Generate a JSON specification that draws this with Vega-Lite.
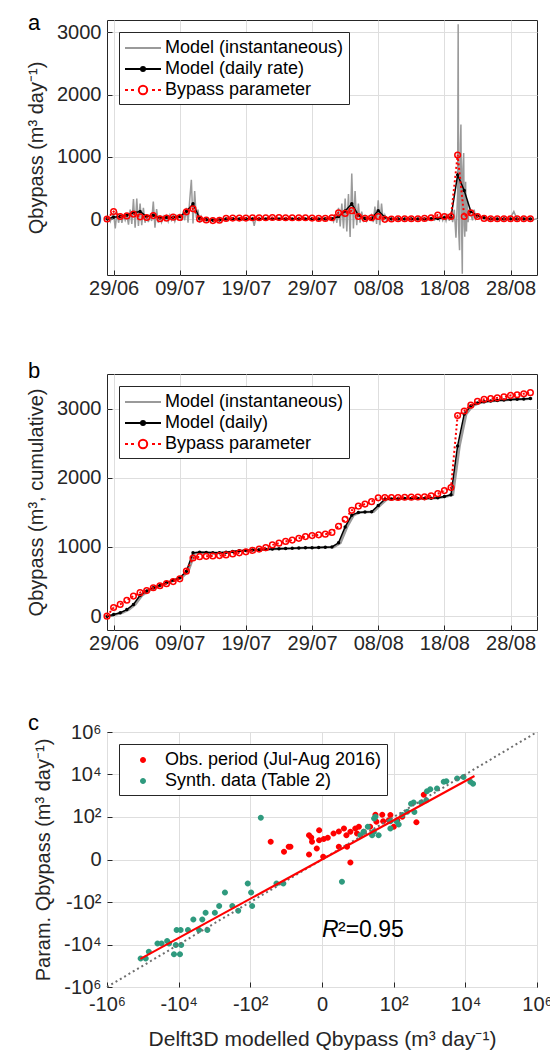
{
  "$schema": "https://vega.github.io/schema/vega-lite/v6.json",
  "padding": {"left": 26, "top": 11, "right": 5, "bottom": 5},
  "spacing": 57,
  "datasets": {
    "inst": [
      {"t":"2016-06-28T00:00","v":0},{"t":"2016-06-28T06:00","v":30},{"t":"2016-06-28T12:00","v":-40},{"t":"2016-06-28T18:00","v":40},
      {"t":"2016-06-29T00:00","v":80},{"t":"2016-06-29T06:00","v":-150},{"t":"2016-06-29T12:00","v":120},{"t":"2016-06-29T18:00","v":-60},
      {"t":"2016-06-30T00:00","v":90},{"t":"2016-06-30T06:00","v":-60},{"t":"2016-06-30T12:00","v":70},{"t":"2016-06-30T18:00","v":-20},
      {"t":"2016-07-01T00:00","v":60},{"t":"2016-07-01T06:00","v":-90},{"t":"2016-07-01T12:00","v":150},{"t":"2016-07-01T18:00","v":-80},
      {"t":"2016-07-02T00:00","v":320},{"t":"2016-07-02T06:00","v":-140},{"t":"2016-07-02T12:00","v":330},{"t":"2016-07-02T18:00","v":-110},
      {"t":"2016-07-03T00:00","v":250},{"t":"2016-07-03T06:00","v":-100},{"t":"2016-07-03T12:00","v":180},{"t":"2016-07-03T18:00","v":-60},
      {"t":"2016-07-04T00:00","v":60},{"t":"2016-07-04T06:00","v":-50},{"t":"2016-07-04T12:00","v":50},{"t":"2016-07-04T18:00","v":-30},
      {"t":"2016-07-05T00:00","v":280},{"t":"2016-07-05T06:00","v":-140},{"t":"2016-07-05T12:00","v":160},{"t":"2016-07-05T18:00","v":-60},
      {"t":"2016-07-06T00:00","v":60},{"t":"2016-07-06T06:00","v":-50},{"t":"2016-07-06T12:00","v":40},{"t":"2016-07-06T18:00","v":-20},
      {"t":"2016-07-07T00:00","v":50},{"t":"2016-07-07T06:00","v":-40},{"t":"2016-07-07T12:00","v":60},{"t":"2016-07-07T18:00","v":-20},
      {"t":"2016-07-08T00:00","v":40},{"t":"2016-07-08T06:00","v":-40},{"t":"2016-07-08T12:00","v":50},{"t":"2016-07-08T18:00","v":0},
      {"t":"2016-07-09T00:00","v":60},{"t":"2016-07-09T06:00","v":-30},{"t":"2016-07-09T12:00","v":120},{"t":"2016-07-09T18:00","v":-20},
      {"t":"2016-07-10T00:00","v":180},{"t":"2016-07-10T06:00","v":-60},{"t":"2016-07-10T12:00","v":300},{"t":"2016-07-10T18:00","v":630},
      {"t":"2016-07-11T00:00","v":-70},{"t":"2016-07-11T06:00","v":450},{"t":"2016-07-11T12:00","v":20},{"t":"2016-07-11T18:00","v":150},
      {"t":"2016-07-12T00:00","v":-60},{"t":"2016-07-12T06:00","v":40},{"t":"2016-07-12T12:00","v":-20},{"t":"2016-07-12T18:00","v":10},
      {"t":"2016-07-13T00:00","v":20},{"t":"2016-07-13T12:00","v":-20},
      {"t":"2016-07-14T00:00","v":15},{"t":"2016-07-14T12:00","v":-15},
      {"t":"2016-07-15T00:00","v":20},{"t":"2016-07-15T12:00","v":-20},
      {"t":"2016-07-16T00:00","v":15},{"t":"2016-07-16T12:00","v":-10},
      {"t":"2016-07-17T00:00","v":20},{"t":"2016-07-17T12:00","v":-15},
      {"t":"2016-07-18T00:00","v":15},{"t":"2016-07-18T12:00","v":-20},
      {"t":"2016-07-19T00:00","v":20},{"t":"2016-07-19T12:00","v":-15},
      {"t":"2016-07-20T00:00","v":20},{"t":"2016-07-20T06:00","v":-110},{"t":"2016-07-20T12:00","v":15},
      {"t":"2016-07-21T00:00","v":-15},{"t":"2016-07-21T12:00","v":20},
      {"t":"2016-07-22T00:00","v":-10},{"t":"2016-07-22T12:00","v":15},
      {"t":"2016-07-23T00:00","v":-15},{"t":"2016-07-23T12:00","v":20},
      {"t":"2016-07-24T00:00","v":-10},{"t":"2016-07-24T12:00","v":15},
      {"t":"2016-07-25T00:00","v":-20},{"t":"2016-07-25T12:00","v":20},
      {"t":"2016-07-26T00:00","v":-10},{"t":"2016-07-26T12:00","v":15},
      {"t":"2016-07-27T00:00","v":-15},{"t":"2016-07-27T12:00","v":20},
      {"t":"2016-07-28T00:00","v":-10},{"t":"2016-07-28T12:00","v":15},
      {"t":"2016-07-29T00:00","v":-15},{"t":"2016-07-29T12:00","v":20},
      {"t":"2016-07-30T00:00","v":-10},{"t":"2016-07-30T12:00","v":25},
      {"t":"2016-07-31T00:00","v":-20},{"t":"2016-07-31T12:00","v":30},
      {"t":"2016-08-01T00:00","v":20},{"t":"2016-08-01T06:00","v":-40},{"t":"2016-08-01T12:00","v":80},{"t":"2016-08-01T18:00","v":-60},
      {"t":"2016-08-02T00:00","v":180},{"t":"2016-08-02T06:00","v":-120},{"t":"2016-08-02T12:00","v":250},{"t":"2016-08-02T18:00","v":-150},
      {"t":"2016-08-03T00:00","v":330},{"t":"2016-08-03T06:00","v":-200},{"t":"2016-08-03T12:00","v":400},{"t":"2016-08-03T18:00","v":-290},
      {"t":"2016-08-04T00:00","v":730},{"t":"2016-08-04T06:00","v":-150},{"t":"2016-08-04T12:00","v":450},{"t":"2016-08-04T18:00","v":-100},
      {"t":"2016-08-05T00:00","v":250},{"t":"2016-08-05T06:00","v":-60},{"t":"2016-08-05T12:00","v":120},{"t":"2016-08-05T18:00","v":-20},
      {"t":"2016-08-06T00:00","v":50},{"t":"2016-08-06T06:00","v":-30},{"t":"2016-08-06T12:00","v":40},{"t":"2016-08-06T18:00","v":-10},
      {"t":"2016-08-07T00:00","v":60},{"t":"2016-08-07T06:00","v":-50},{"t":"2016-08-07T12:00","v":200},{"t":"2016-08-07T18:00","v":-80},
      {"t":"2016-08-08T00:00","v":300},{"t":"2016-08-08T06:00","v":-100},{"t":"2016-08-08T12:00","v":250},{"t":"2016-08-08T18:00","v":-40},
      {"t":"2016-08-09T00:00","v":60},{"t":"2016-08-09T06:00","v":-30},{"t":"2016-08-09T12:00","v":20},{"t":"2016-08-09T18:00","v":-10},
      {"t":"2016-08-10T00:00","v":15},{"t":"2016-08-10T12:00","v":-15},
      {"t":"2016-08-11T00:00","v":20},{"t":"2016-08-11T12:00","v":-20},
      {"t":"2016-08-12T00:00","v":15},{"t":"2016-08-12T12:00","v":-15},
      {"t":"2016-08-13T00:00","v":20},{"t":"2016-08-13T12:00","v":-20},
      {"t":"2016-08-14T00:00","v":15},{"t":"2016-08-14T12:00","v":-15},
      {"t":"2016-08-15T00:00","v":20},{"t":"2016-08-15T12:00","v":-20},
      {"t":"2016-08-16T00:00","v":25},{"t":"2016-08-16T12:00","v":-20},
      {"t":"2016-08-17T00:00","v":40},{"t":"2016-08-17T06:00","v":-20},{"t":"2016-08-17T12:00","v":60},{"t":"2016-08-17T18:00","v":-20},
      {"t":"2016-08-18T00:00","v":60},{"t":"2016-08-18T06:00","v":-30},{"t":"2016-08-18T12:00","v":80},{"t":"2016-08-18T18:00","v":-30},
      {"t":"2016-08-19T00:00","v":100},{"t":"2016-08-19T06:00","v":-50},{"t":"2016-08-19T12:00","v":150},{"t":"2016-08-19T18:00","v":-300},
      {"t":"2016-08-20T00:00","v":400},{"t":"2016-08-20T02:00","v":3130},{"t":"2016-08-20T04:00","v":-200},{"t":"2016-08-20T07:00","v":-500},{"t":"2016-08-20T10:00","v":1200},{"t":"2016-08-20T12:00","v":1520},{"t":"2016-08-20T15:00","v":-300},{"t":"2016-08-20T17:00","v":-880},{"t":"2016-08-20T19:00","v":800},{"t":"2016-08-20T22:00","v":1060},
      {"t":"2016-08-21T00:00","v":-100},{"t":"2016-08-21T02:00","v":-285},{"t":"2016-08-21T05:00","v":600},{"t":"2016-08-21T08:00","v":-200},{"t":"2016-08-21T11:00","v":300},{"t":"2016-08-21T14:00","v":-50},{"t":"2016-08-21T18:00","v":150},
      {"t":"2016-08-22T00:00","v":80},{"t":"2016-08-22T06:00","v":-20},{"t":"2016-08-22T12:00","v":150},{"t":"2016-08-22T18:00","v":0},
      {"t":"2016-08-23T00:00","v":60},{"t":"2016-08-23T12:00","v":20},
      {"t":"2016-08-24T00:00","v":30},{"t":"2016-08-24T12:00","v":-20},
      {"t":"2016-08-25T00:00","v":20},{"t":"2016-08-25T12:00","v":-15},
      {"t":"2016-08-26T00:00","v":15},{"t":"2016-08-26T12:00","v":-20},
      {"t":"2016-08-27T00:00","v":20},{"t":"2016-08-27T12:00","v":-15},
      {"t":"2016-08-28T00:00","v":25},{"t":"2016-08-28T12:00","v":120},
      {"t":"2016-08-29T00:00","v":-10},{"t":"2016-08-29T12:00","v":20},
      {"t":"2016-08-30T00:00","v":15},{"t":"2016-08-30T12:00","v":-15},
      {"t":"2016-08-31T00:00","v":20},{"t":"2016-08-31T12:00","v":-10},
      {"t":"2016-09-01T00:00","v":10}
    ],
    "daily": [
      {"t":"2016-06-28T00:00","m":5,"p":0,"cm":0,"cp":0},
      {"t":"2016-06-29T00:00","m":30,"p":120,"cm":25,"cp":125},
      {"t":"2016-06-30T00:00","m":40,"p":40,"cm":50,"cp":170},
      {"t":"2016-07-01T00:00","m":60,"p":50,"cm":95,"cp":230},
      {"t":"2016-07-02T00:00","m":100,"p":80,"cm":170,"cp":290},
      {"t":"2016-07-03T00:00","m":120,"p":35,"cm":300,"cp":340},
      {"t":"2016-07-04T00:00","m":40,"p":25,"cm":365,"cp":370},
      {"t":"2016-07-05T00:00","m":60,"p":55,"cm":410,"cp":410},
      {"t":"2016-07-06T00:00","m":20,"p":5,"cm":445,"cp":440},
      {"t":"2016-07-07T00:00","m":25,"p":15,"cm":485,"cp":470},
      {"t":"2016-07-08T00:00","m":30,"p":30,"cm":520,"cp":500},
      {"t":"2016-07-09T00:00","m":40,"p":25,"cm":555,"cp":540},
      {"t":"2016-07-10T00:00","m":120,"p":115,"cm":650,"cp":650},
      {"t":"2016-07-11T00:00","m":245,"p":165,"cm":915,"cp":840},
      {"t":"2016-07-12T00:00","m":10,"p":0,"cm":925,"cp":860},
      {"t":"2016-07-13T00:00","m":-10,"p":-15,"cm":920,"cp":865},
      {"t":"2016-07-14T00:00","m":-20,"p":-25,"cm":915,"cp":870},
      {"t":"2016-07-15T00:00","m":-15,"p":-20,"cm":918,"cp":875},
      {"t":"2016-07-16T00:00","m":0,"p":10,"cm":925,"cp":885},
      {"t":"2016-07-17T00:00","m":5,"p":15,"cm":935,"cp":900},
      {"t":"2016-07-18T00:00","m":0,"p":15,"cm":945,"cp":915},
      {"t":"2016-07-19T00:00","m":5,"p":15,"cm":950,"cp":930},
      {"t":"2016-07-20T00:00","m":0,"p":20,"cm":955,"cp":950},
      {"t":"2016-07-21T00:00","m":5,"p":20,"cm":960,"cp":970},
      {"t":"2016-07-22T00:00","m":0,"p":20,"cm":965,"cp":990},
      {"t":"2016-07-23T00:00","m":5,"p":25,"cm":970,"cp":1030},
      {"t":"2016-07-24T00:00","m":0,"p":25,"cm":975,"cp":1055},
      {"t":"2016-07-25T00:00","m":5,"p":20,"cm":978,"cp":1080},
      {"t":"2016-07-26T00:00","m":0,"p":20,"cm":980,"cp":1100},
      {"t":"2016-07-27T00:00","m":5,"p":20,"cm":985,"cp":1125},
      {"t":"2016-07-28T00:00","m":0,"p":20,"cm":990,"cp":1150},
      {"t":"2016-07-29T00:00","m":5,"p":15,"cm":990,"cp":1165},
      {"t":"2016-07-30T00:00","m":0,"p":10,"cm":992,"cp":1175},
      {"t":"2016-07-31T00:00","m":5,"p":10,"cm":995,"cp":1185},
      {"t":"2016-08-01T00:00","m":5,"p":20,"cm":1000,"cp":1210},
      {"t":"2016-08-02T00:00","m":40,"p":100,"cm":1060,"cp":1300},
      {"t":"2016-08-03T00:00","m":130,"p":90,"cm":1290,"cp":1400},
      {"t":"2016-08-04T00:00","m":245,"p":135,"cm":1460,"cp":1530},
      {"t":"2016-08-05T00:00","m":60,"p":40,"cm":1500,"cp":1590},
      {"t":"2016-08-06T00:00","m":10,"p":10,"cm":1505,"cp":1620},
      {"t":"2016-08-07T00:00","m":10,"p":20,"cm":1510,"cp":1655},
      {"t":"2016-08-08T00:00","m":135,"p":40,"cm":1600,"cp":1710},
      {"t":"2016-08-09T00:00","m":30,"p":-5,"cm":1690,"cp":1715},
      {"t":"2016-08-10T00:00","m":0,"p":0,"cm":1695,"cp":1715},
      {"t":"2016-08-11T00:00","m":0,"p":5,"cm":1698,"cp":1715},
      {"t":"2016-08-12T00:00","m":0,"p":5,"cm":1700,"cp":1718},
      {"t":"2016-08-13T00:00","m":0,"p":5,"cm":1700,"cp":1720},
      {"t":"2016-08-14T00:00","m":0,"p":5,"cm":1700,"cp":1722},
      {"t":"2016-08-15T00:00","m":0,"p":10,"cm":1702,"cp":1725},
      {"t":"2016-08-16T00:00","m":5,"p":20,"cm":1705,"cp":1740},
      {"t":"2016-08-17T00:00","m":10,"p":65,"cm":1712,"cp":1770},
      {"t":"2016-08-18T00:00","m":20,"p":40,"cm":1730,"cp":1815},
      {"t":"2016-08-19T00:00","m":30,"p":40,"cm":1755,"cp":1860},
      {"t":"2016-08-20T00:00","m":710,"p":1030,"cm":2460,"cp":2900},
      {"t":"2016-08-21T00:00","m":460,"p":40,"cm":2920,"cp":2965},
      {"t":"2016-08-22T00:00","m":120,"p":100,"cm":3040,"cp":3050},
      {"t":"2016-08-23T00:00","m":50,"p":40,"cm":3080,"cp":3105},
      {"t":"2016-08-24T00:00","m":20,"p":10,"cm":3100,"cp":3135},
      {"t":"2016-08-25T00:00","m":0,"p":5,"cm":3110,"cp":3145},
      {"t":"2016-08-26T00:00","m":0,"p":5,"cm":3118,"cp":3155},
      {"t":"2016-08-27T00:00","m":0,"p":5,"cm":3125,"cp":3170},
      {"t":"2016-08-28T00:00","m":0,"p":5,"cm":3130,"cp":3190},
      {"t":"2016-08-29T00:00","m":0,"p":5,"cm":3135,"cp":3200},
      {"t":"2016-08-30T00:00","m":0,"p":5,"cm":3140,"cp":3215},
      {"t":"2016-08-31T00:00","m":0,"p":5,"cm":3145,"cp":3230}
    ],
    "cumi": [
      {"t":"2016-06-28T07:00","v":0},{"t":"2016-06-29T07:00","v":25},{"t":"2016-06-30T07:00","v":50},{"t":"2016-07-01T07:00","v":95},
      {"t":"2016-07-02T07:00","v":170},{"t":"2016-07-03T07:00","v":300},{"t":"2016-07-04T07:00","v":365},{"t":"2016-07-05T07:00","v":410},
      {"t":"2016-07-06T07:00","v":445},{"t":"2016-07-07T07:00","v":485},{"t":"2016-07-08T07:00","v":520},{"t":"2016-07-09T07:00","v":555},
      {"t":"2016-07-10T07:00","v":650},{"t":"2016-07-11T07:00","v":915},{"t":"2016-07-12T07:00","v":925},{"t":"2016-07-13T07:00","v":920},
      {"t":"2016-07-14T07:00","v":915},{"t":"2016-07-15T07:00","v":918},{"t":"2016-07-16T07:00","v":925},{"t":"2016-07-17T07:00","v":935},
      {"t":"2016-07-18T07:00","v":945},{"t":"2016-07-19T07:00","v":950},{"t":"2016-07-20T07:00","v":955},{"t":"2016-07-21T07:00","v":960},
      {"t":"2016-07-22T07:00","v":965},{"t":"2016-07-23T07:00","v":970},{"t":"2016-07-24T07:00","v":975},{"t":"2016-07-25T07:00","v":978},
      {"t":"2016-07-26T07:00","v":980},{"t":"2016-07-27T07:00","v":985},{"t":"2016-07-28T07:00","v":990},{"t":"2016-07-29T07:00","v":990},
      {"t":"2016-07-30T07:00","v":992},{"t":"2016-07-31T07:00","v":995},{"t":"2016-08-01T07:00","v":1000},{"t":"2016-08-02T07:00","v":1060},
      {"t":"2016-08-03T07:00","v":1290},{"t":"2016-08-04T07:00","v":1460},{"t":"2016-08-05T07:00","v":1500},{"t":"2016-08-06T07:00","v":1505},
      {"t":"2016-08-07T07:00","v":1510},{"t":"2016-08-08T07:00","v":1600},{"t":"2016-08-09T07:00","v":1690},{"t":"2016-08-10T07:00","v":1695},
      {"t":"2016-08-11T07:00","v":1698},{"t":"2016-08-12T07:00","v":1700},{"t":"2016-08-13T07:00","v":1700},{"t":"2016-08-14T07:00","v":1700},
      {"t":"2016-08-15T07:00","v":1702},{"t":"2016-08-16T07:00","v":1705},{"t":"2016-08-17T07:00","v":1712},{"t":"2016-08-18T07:00","v":1730},
      {"t":"2016-08-19T07:00","v":1755},{"t":"2016-08-20T07:00","v":2460},{"t":"2016-08-21T07:00","v":2920},{"t":"2016-08-22T07:00","v":3040},
      {"t":"2016-08-23T07:00","v":3080},{"t":"2016-08-24T07:00","v":3100},{"t":"2016-08-25T07:00","v":3110},{"t":"2016-08-26T07:00","v":3118},
      {"t":"2016-08-27T07:00","v":3125},{"t":"2016-08-28T07:00","v":3130},{"t":"2016-08-29T07:00","v":3135},{"t":"2016-08-30T07:00","v":3140},
      {"t":"2016-08-31T07:00","v":3145}
    ],
    "scatter": [
      {"x":-26,"y":5.8,"g":"Obs. period (Jul-Aug 2016)"},
      {"x":-10.5,"y":1.3,"g":"Obs. period (Jul-Aug 2016)"},
      {"x":-7.5,"y":3,"g":"Obs. period (Jul-Aug 2016)"},
      {"x":-6.6,"y":3,"g":"Obs. period (Jul-Aug 2016)"},
      {"x":-1.3,"y":0.7,"g":"Obs. period (Jul-Aug 2016)"},
      {"x":-1.0,"y":9.8,"g":"Obs. period (Jul-Aug 2016)"},
      {"x":-0.9,"y":5.8,"g":"Obs. period (Jul-Aug 2016)"},
      {"x":-1.3,"y":13,"g":"Obs. period (Jul-Aug 2016)"},
      {"x":-0.4,"y":2.3,"g":"Obs. period (Jul-Aug 2016)"},
      {"x":-0.2,"y":23,"g":"Obs. period (Jul-Aug 2016)"},
      {"x":-0.2,"y":7.1,"g":"Obs. period (Jul-Aug 2016)"},
      {"x":0.12,"y":8.1,"g":"Obs. period (Jul-Aug 2016)"},
      {"x":0.08,"y":0.35,"g":"Obs. period (Jul-Aug 2016)"},
      {"x":0.45,"y":9.5,"g":"Obs. period (Jul-Aug 2016)"},
      {"x":1.1,"y":15.6,"g":"Obs. period (Jul-Aug 2016)"},
      {"x":1.95,"y":20,"g":"Obs. period (Jul-Aug 2016)"},
      {"x":3.1,"y":28,"g":"Obs. period (Jul-Aug 2016)"},
      {"x":3.8,"y":13,"g":"Obs. period (Jul-Aug 2016)"},
      {"x":5.2,"y":19,"g":"Obs. period (Jul-Aug 2016)"},
      {"x":7.5,"y":28,"g":"Obs. period (Jul-Aug 2016)"},
      {"x":8.5,"y":15.6,"g":"Obs. period (Jul-Aug 2016)"},
      {"x":5.2,"y":-0.4,"g":"Obs. period (Jul-Aug 2016)"},
      {"x":1.95,"y":3,"g":"Obs. period (Jul-Aug 2016)"},
      {"x":4,"y":3,"g":"Obs. period (Jul-Aug 2016)"},
      {"x":13.6,"y":19,"g":"Obs. period (Jul-Aug 2016)"},
      {"x":30,"y":128,"g":"Obs. period (Jul-Aug 2016)"},
      {"x":47,"y":128,"g":"Obs. period (Jul-Aug 2016)"},
      {"x":32,"y":58,"g":"Obs. period (Jul-Aug 2016)"},
      {"x":50,"y":62,"g":"Obs. period (Jul-Aug 2016)"},
      {"x":80,"y":122,"g":"Obs. period (Jul-Aug 2016)"},
      {"x":72,"y":70,"g":"Obs. period (Jul-Aug 2016)"},
      {"x":125,"y":70,"g":"Obs. period (Jul-Aug 2016)"},
      {"x":173,"y":101,"g":"Obs. period (Jul-Aug 2016)"},
      {"x":100,"y":34,"g":"Obs. period (Jul-Aug 2016)"},
      {"x":21,"y":34,"g":"Obs. period (Jul-Aug 2016)"},
      {"x":9.7,"y":34,"g":"Obs. period (Jul-Aug 2016)"},
      {"x":430,"y":55,"g":"Obs. period (Jul-Aug 2016)"},
      {"x":690,"y":1120,"g":"Obs. period (Jul-Aug 2016)"},
      {"x":-50,"y":90,"g":"Synth. data (Table 2)"},
      {"x":-117,"y":-12.5,"g":"Synth. data (Table 2)"},
      {"x":-94,"y":-35,"g":"Synth. data (Table 2)"},
      {"x":-88,"y":-154,"g":"Synth. data (Table 2)"},
      {"x":-11,"y":-12.5,"g":"Synth. data (Table 2)"},
      {"x":-17.6,"y":-12.5,"g":"Synth. data (Table 2)"},
      {"x":-510,"y":-35,"g":"Synth. data (Table 2)"},
      {"x":-317,"y":-154,"g":"Synth. data (Table 2)"},
      {"x":-217,"y":-256,"g":"Synth. data (Table 2)"},
      {"x":-740,"y":-154,"g":"Synth. data (Table 2)"},
      {"x":-977,"y":-317,"g":"Synth. data (Table 2)"},
      {"x":-1770,"y":-317,"g":"Synth. data (Table 2)"},
      {"x":-2190,"y":-660,"g":"Synth. data (Table 2)"},
      {"x":-3890,"y":-660,"g":"Synth. data (Table 2)"},
      {"x":-2700,"y":-2090,"g":"Synth. data (Table 2)"},
      {"x":-1580,"y":-2090,"g":"Synth. data (Table 2)"},
      {"x":-5500,"y":-2090,"g":"Synth. data (Table 2)"},
      {"x":-11400,"y":-2090,"g":"Synth. data (Table 2)"},
      {"x":-8800,"y":-2090,"g":"Synth. data (Table 2)"},
      {"x":-12000,"y":-10500,"g":"Synth. data (Table 2)"},
      {"x":-8500,"y":-10500,"g":"Synth. data (Table 2)"},
      {"x":-13500,"y":-29000,"g":"Synth. data (Table 2)"},
      {"x":-9200,"y":-29000,"g":"Synth. data (Table 2)"},
      {"x":-18600,"y":-8900,"g":"Synth. data (Table 2)"},
      {"x":-39000,"y":-8900,"g":"Synth. data (Table 2)"},
      {"x":-30000,"y":-8900,"g":"Synth. data (Table 2)"},
      {"x":-68000,"y":-22000,"g":"Synth. data (Table 2)"},
      {"x":-83000,"y":-45000,"g":"Synth. data (Table 2)"},
      {"x":-115000,"y":-45000,"g":"Synth. data (Table 2)"},
      {"x":-21000,"y":-6900,"g":"Synth. data (Table 2)"},
      {"x":16400,"y":3700,"g":"Synth. data (Table 2)"},
      {"x":13800,"y":4500,"g":"Synth. data (Table 2)"},
      {"x":8900,"y":7700,"g":"Synth. data (Table 2)"},
      {"x":5900,"y":6400,"g":"Synth. data (Table 2)"},
      {"x":2950,"y":4800,"g":"Synth. data (Table 2)"},
      {"x":2500,"y":4500,"g":"Synth. data (Table 2)"},
      {"x":1620,"y":2170,"g":"Synth. data (Table 2)"},
      {"x":1050,"y":2040,"g":"Synth. data (Table 2)"},
      {"x":850,"y":1620,"g":"Synth. data (Table 2)"},
      {"x":585,"y":475,"g":"Synth. data (Table 2)"},
      {"x":360,"y":475,"g":"Synth. data (Table 2)"},
      {"x":305,"y":425,"g":"Synth. data (Table 2)"},
      {"x":238,"y":174,"g":"Synth. data (Table 2)"},
      {"x":173,"y":122,"g":"Synth. data (Table 2)"},
      {"x":119,"y":62,"g":"Synth. data (Table 2)"},
      {"x":80,"y":62,"g":"Synth. data (Table 2)"},
      {"x":80,"y":28,"g":"Synth. data (Table 2)"},
      {"x":137,"y":43,"g":"Synth. data (Table 2)"},
      {"x":30,"y":101,"g":"Synth. data (Table 2)"},
      {"x":27,"y":19,"g":"Synth. data (Table 2)"},
      {"x":37,"y":13,"g":"Synth. data (Table 2)"},
      {"x":24,"y":13,"g":"Synth. data (Table 2)"},
      {"x":18,"y":34,"g":"Synth. data (Table 2)"},
      {"x":10.8,"y":13,"g":"Synth. data (Table 2)"},
      {"x":13.6,"y":19,"g":"Synth. data (Table 2)"},
      {"x":2.6,"y":-10.2,"g":"Synth. data (Table 2)"},
      {"x":377,"y":173,"g":"Synth. data (Table 2)"},
      {"x":815,"y":610,"g":"Synth. data (Table 2)"},
      {"x":27.5,"y":84,"g":"Synth. data (Table 2)"}
    ]
  },
  "resolve": {
    "scale": {"color": "independent", "shape": "independent"},
    "legend": {"color": "independent", "shape": "independent"}
  },
  "vconcat": [
    {
      "spacing": 60,
      "resolve": {
        "scale": {"color": "independent", "shape": "independent"},
        "legend": {"color": "independent", "shape": "independent"}
      },
      "vconcat": [
        {
          "width": 430, "height": 255,
          "title": {"text": "a", "anchor": "start", "frame": "group", "dx": -79, "dy": 32, "offset": 0, "baseline": "alphabetic", "fontSize": 22, "fontWeight": "normal", "color": "#000000"},
          "layer": [
            {
              "data": {"name": "inst"},
              "mark": {"type": "line", "color": "#9a9a9a", "strokeWidth": 1.5, "clip": true},
              "encoding": {
                "x": {"field": "t", "type": "temporal", "title": null,
                  "scale": {"domain": [{"year": 2016, "month": 6, "date": 28}, {"year": 2016, "month": 9, "date": 1}]},
                  "axis": {"format": "%d/%m", "values": [{"year": 2016, "month": 6, "date": 29}, {"year": 2016, "month": 7, "date": 9}, {"year": 2016, "month": 7, "date": 19}, {"year": 2016, "month": 7, "date": 29}, {"year": 2016, "month": 8, "date": 8}, {"year": 2016, "month": 8, "date": 18}, {"year": 2016, "month": 8, "date": 28}]}},
                "y": {"field": "v", "type": "quantitative", "title": "Qbypass (m³ day⁻¹)",
                  "scale": {"domain": [-900, 3200], "nice": false, "zero": false},
                  "axis": {"values": [0, 1000, 2000, 3000], "format": "d"}}
              }
            },
            {
              "data": {"name": "daily"},
              "mark": {"type": "line", "color": "#000000", "strokeWidth": 1.5},
              "encoding": {
                "x": {"field": "t", "type": "temporal", "title": null},
                "y": {"field": "m", "type": "quantitative", "title": "Qbypass (m³ day⁻¹)"}
              }
            },
            {
              "data": {"name": "daily"},
              "mark": {"type": "point", "filled": true, "color": "#000000", "size": 12, "opacity": 1},
              "encoding": {
                "x": {"field": "t", "type": "temporal", "title": null},
                "y": {"field": "m", "type": "quantitative", "title": "Qbypass (m³ day⁻¹)"}
              }
            },
            {
              "data": {"name": "daily"},
              "mark": {"type": "line", "color": "#ff0000", "strokeWidth": 2, "strokeDash": [2, 2.5]},
              "encoding": {
                "x": {"field": "t", "type": "temporal", "title": null},
                "y": {"field": "p", "type": "quantitative", "title": "Qbypass (m³ day⁻¹)"}
              }
            },
            {
              "data": {"name": "daily"},
              "mark": {"type": "point", "filled": false, "color": "#ff0000", "size": 32, "strokeWidth": 1.5, "opacity": 1},
              "encoding": {
                "x": {"field": "t", "type": "temporal", "title": null},
                "y": {"field": "p", "type": "quantitative", "title": "Qbypass (m³ day⁻¹)"}
              }
            },
            {
              "data": {"values": []},
              "mark": {"type": "point", "filled": false, "strokeWidth": 2, "opacity": 1},
              "encoding": {
                "color": {"field": "s", "type": "nominal",
                  "scale": {"domain": ["Model (instantaneous)", "Model (daily rate)", "Bypass parameter"], "range": ["#9a9a9a", "#000000", "#ff0000"]},
                  "legend": {"title": null, "orient": "top-left", "offset": 12}},
                "shape": {"field": "s", "type": "nominal",
                  "scale": {"domain": ["Model (instantaneous)", "Model (daily rate)", "Bypass parameter"], "range": ["M-1.8,0L1.8,0", "M-1.8,0L1.8,0M0.2,0A0.2,0.2,0,1,1,-0.2,0A0.2,0.2,0,1,1,0.2,0Z", "M-1.8,0L-1.5,0M-1.2,0L-0.9,0M0.9,0L1.2,0M1.5,0L1.8,0M0.42,0A0.42,0.42,0,1,1,-0.42,0A0.42,0.42,0,1,1,0.42,0Z"]},
                  "legend": {"title": null, "orient": "top-left", "offset": 12}}
              }
            }
          ]
        },
        {
          "width": 430, "height": 256,
          "title": {"text": "b", "anchor": "start", "frame": "group", "dx": -79, "dy": 26, "offset": 0, "baseline": "alphabetic", "fontSize": 22, "fontWeight": "normal", "color": "#000000"},
          "layer": [
            {
              "data": {"name": "cumi"},
              "mark": {"type": "line", "color": "#9a9a9a", "strokeWidth": 2.5, "clip": true},
              "encoding": {
                "x": {"field": "t", "type": "temporal", "title": null,
                  "scale": {"domain": [{"year": 2016, "month": 6, "date": 28}, {"year": 2016, "month": 9, "date": 1}]},
                  "axis": {"format": "%d/%m", "values": [{"year": 2016, "month": 6, "date": 29}, {"year": 2016, "month": 7, "date": 9}, {"year": 2016, "month": 7, "date": 19}, {"year": 2016, "month": 7, "date": 29}, {"year": 2016, "month": 8, "date": 8}, {"year": 2016, "month": 8, "date": 18}, {"year": 2016, "month": 8, "date": 28}]}},
                "y": {"field": "v", "type": "quantitative", "title": "Qbypass (m³, cumulative)",
                  "scale": {"domain": [-200, 3500], "nice": false, "zero": false},
                  "axis": {"values": [0, 1000, 2000, 3000], "format": "d"}}
              }
            },
            {
              "data": {"name": "daily"},
              "mark": {"type": "line", "color": "#000000", "strokeWidth": 1.5},
              "encoding": {
                "x": {"field": "t", "type": "temporal", "title": null},
                "y": {"field": "cm", "type": "quantitative", "title": "Qbypass (m³, cumulative)"}
              }
            },
            {
              "data": {"name": "daily"},
              "mark": {"type": "point", "filled": true, "color": "#000000", "size": 12, "opacity": 1},
              "encoding": {
                "x": {"field": "t", "type": "temporal", "title": null},
                "y": {"field": "cm", "type": "quantitative", "title": "Qbypass (m³, cumulative)"}
              }
            },
            {
              "data": {"name": "daily"},
              "mark": {"type": "line", "color": "#ff0000", "strokeWidth": 2, "strokeDash": [2, 2.5]},
              "encoding": {
                "x": {"field": "t", "type": "temporal", "title": null},
                "y": {"field": "cp", "type": "quantitative", "title": "Qbypass (m³, cumulative)"}
              }
            },
            {
              "data": {"name": "daily"},
              "mark": {"type": "point", "filled": false, "color": "#ff0000", "size": 32, "strokeWidth": 1.5, "opacity": 1},
              "encoding": {
                "x": {"field": "t", "type": "temporal", "title": null},
                "y": {"field": "cp", "type": "quantitative", "title": "Qbypass (m³, cumulative)"}
              }
            },
            {
              "data": {"values": []},
              "mark": {"type": "point", "filled": false, "strokeWidth": 2, "opacity": 1},
              "encoding": {
                "color": {"field": "s", "type": "nominal",
                  "scale": {"domain": ["Model (instantaneous)", "Model (daily)", "Bypass parameter"], "range": ["#9a9a9a", "#000000", "#ff0000"]},
                  "legend": {"title": null, "orient": "top-left", "offset": 12}},
                "shape": {"field": "s", "type": "nominal",
                  "scale": {"domain": ["Model (instantaneous)", "Model (daily)", "Bypass parameter"], "range": ["M-1.8,0L1.8,0", "M-1.8,0L1.8,0M0.2,0A0.2,0.2,0,1,1,-0.2,0A0.2,0.2,0,1,1,0.2,0Z", "M-1.8,0L-1.5,0M-1.2,0L-0.9,0M0.9,0L1.2,0M1.5,0L1.8,0M0.42,0A0.42,0.42,0,1,1,-0.42,0A0.42,0.42,0,1,1,0.42,0Z"]},
                  "legend": {"title": null, "orient": "top-left", "offset": 12}}
              }
            }
          ]
        }
      ]
    },
    {
      "width": 430, "height": 255,
      "title": {"text": "c", "anchor": "start", "frame": "group", "dx": -79, "dy": 30, "offset": 0, "baseline": "alphabetic", "fontSize": 22, "fontWeight": "normal", "color": "#000000"},
      "layer": [
        {
          "data": {"name": "scatter"},
          "mark": {"type": "point", "filled": true, "size": 400, "opacity": 1},
          "encoding": {
            "x": {"field": "x", "type": "quantitative", "title": "Delft3D modelled Qbypass (m³ day⁻¹)",
              "scale": {"type": "symlog", "constant": 1, "domain": [-1000000, 1000000], "nice": false},
              "axis": {"values": [-1000000, -10000, -100, 0, 100, 10000, 1000000], "labelPadding": 12, "titlePadding": 14, "labelExpr": "datum.value == 0 ? '0' : (datum.value < 0 ? '-' : '') + '10' + (abs(datum.value) > 100000 ? '⁶' : abs(datum.value) > 1000 ? '⁴' : '²')"}},
            "y": {"field": "y", "type": "quantitative", "title": "Param. Qbypass (m³ day⁻¹)",
              "scale": {"type": "symlog", "constant": 1, "domain": [-1000000, 1000000], "nice": false},
              "axis": {"values": [-1000000, -10000, -100, 0, 100, 10000, 1000000], "labelExpr": "datum.value == 0 ? '0' : (datum.value < 0 ? '-' : '') + '10' + (abs(datum.value) > 100000 ? '⁶' : abs(datum.value) > 1000 ? '⁴' : '²')"}},
            "color": {"field": "g", "type": "nominal",
              "scale": {"domain": ["Obs. period (Jul-Aug 2016)", "Synth. data (Table 2)"], "range": ["#ff0000", "#2f9a7e"]},
              "legend": {"title": null, "orient": "top-left", "offset": 12}},
            "shape": {"field": "g", "type": "nominal",
              "scale": {"domain": ["Obs. period (Jul-Aug 2016)", "Synth. data (Table 2)"], "range": ["M0.3,0A0.3,0.3,0,1,1,-0.3,0A0.3,0.3,0,1,1,0.3,0Z", "M0.3,0A0.3,0.3,0,1,1,-0.3,0A0.3,0.3,0,1,1,0.3,0Z"]},
              "legend": {"title": null, "orient": "top-left", "offset": 12}}
          }
        },
        {
          "data": {"values": [{"x": -1000000, "y": -1000000}, {"x": 1000000, "y": 1000000}]},
          "mark": {"type": "line", "color": "#6e6e6e", "strokeWidth": 2, "strokeDash": [2, 3]},
          "encoding": {
            "x": {"field": "x", "type": "quantitative", "title": "Delft3D modelled Qbypass (m³ day⁻¹)"},
            "y": {"field": "y", "type": "quantitative", "title": "Param. Qbypass (m³ day⁻¹)"}
          }
        },
        {
          "data": {"values": [{"x": -117000, "y": -48000}, {"x": 18000, "y": 8500}]},
          "mark": {"type": "line", "color": "#ff0000", "strokeWidth": 2},
          "encoding": {
            "x": {"field": "x", "type": "quantitative", "title": "Delft3D modelled Qbypass (m³ day⁻¹)"},
            "y": {"field": "y", "type": "quantitative", "title": "Param. Qbypass (m³ day⁻¹)"}
          }
        },
        {
          "data": {"values": [{"x": 0, "y": -4300, "label": "R"}]},
          "mark": {"type": "text", "align": "left", "baseline": "alphabetic", "fontSize": 23, "fontStyle": "italic", "color": "#000000"},
          "encoding": {
            "x": {"field": "x", "type": "quantitative", "title": "Delft3D modelled Qbypass (m³ day⁻¹)"},
            "y": {"field": "y", "type": "quantitative", "title": "Param. Qbypass (m³ day⁻¹)"},
            "text": {"field": "label"}
          }
        },
        {
          "data": {"values": [{"x": 0, "y": -4300, "label": "²=0.95"}]},
          "mark": {"type": "text", "align": "left", "baseline": "alphabetic", "fontSize": 23, "dx": 16, "color": "#000000"},
          "encoding": {
            "x": {"field": "x", "type": "quantitative", "title": "Delft3D modelled Qbypass (m³ day⁻¹)"},
            "y": {"field": "y", "type": "quantitative", "title": "Param. Qbypass (m³ day⁻¹)"},
            "text": {"field": "label"}
          }
        }
      ]
    }
  ],
  "config": {
    "font": "Liberation Sans",
    "background": "white",
    "view": {"stroke": "#262626", "strokeWidth": 1},
    "axis": {
      "labelFontSize": 20, "labelColor": "#262626",
      "titleFontSize": 20, "titleFontWeight": "normal", "titleColor": "#262626",
      "grid": true, "gridColor": "#dedede", "gridWidth": 1,
      "domain": false, "tickColor": "#262626", "tickSize": -5, "labelPadding": 11,
      "labelOverlap": false, "labelFlush": false, "labelBound": false
    },
    "axisX": {"labelPadding": 8, "titleFontSize": 21},
    "axisY": {"titlePadding": 10},
    "legend": {
      "labelFontSize": 18, "labelColor": "#000000", "labelLimit": 400,
      "strokeColor": "#262626", "fillColor": "white", "padding": 5,
      "symbolSize": 400, "symbolStrokeWidth": 2, "symbolOffset": 8, "labelOffset": 11, "rowPadding": 1
    }
  }
}
